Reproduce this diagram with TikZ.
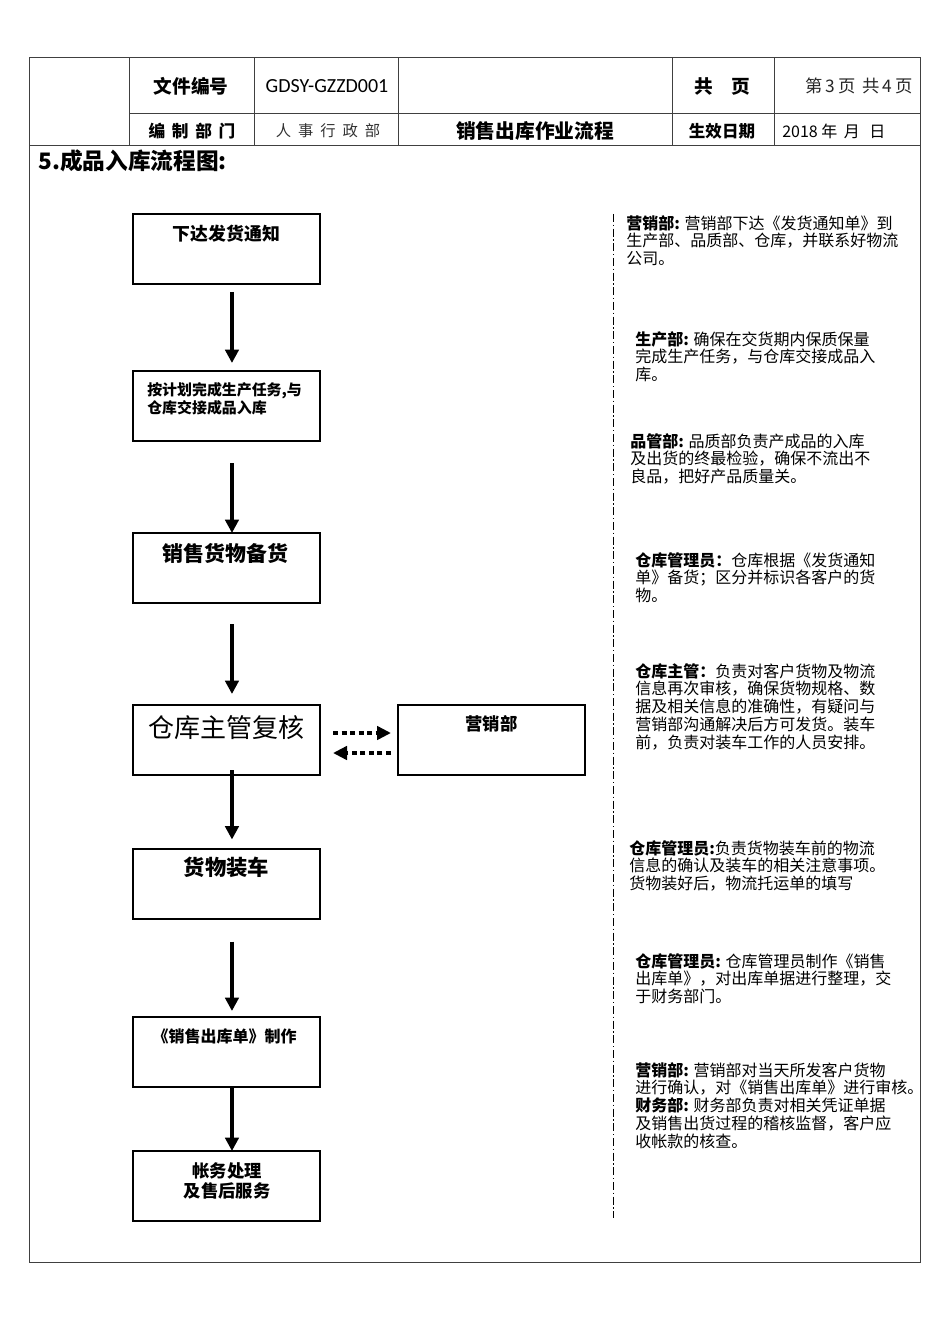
\documentclass[tikz,border=0pt]{standalone}
\usepackage{fontspec}
\setmainfont{Noto Sans CJK SC}
\newfontfamily\latf{Carlito}
\usetikzlibrary{arrows.meta}
\newcommand\myfs[2]{\fontsize{#1}{#2}\selectfont}
\begin{document}
\begin{tikzpicture}[x=0.75pt,y=-0.75pt,
  frame/.style={draw=black!75, line width=0.75pt},
  box/.style={draw, line width=1.5pt, minimum width=140.25pt, minimum height=52.5pt, inner sep=0pt, outer sep=0pt},
  arr/.style={line width=3pt, -{Triangle[width=10pt,length=10pt]}},
  darr/.style={line width=3.6pt, dash pattern=on 3.8pt off 2.6pt, -{Triangle[width=10pt,length=10.5pt]}},
  btxt/.style={inner sep=0pt, align=center, anchor=north},
  rtxt/.style={inner sep=0pt, align=left, anchor=north west, font=\myfs{12pt}{13.3pt}},
  htxt/.style={inner sep=0pt}
]
\useasboundingbox (0,0) rectangle (950,1344);
% header table and frame
\draw[frame] (29,58) rectangle (920,1262);
\draw[frame] (129,114) -- (920,114);
\draw[frame] (29,146) -- (920,146);
\foreach \xx in {129,254,398,672,774} \draw[frame] (\xx,58) -- (\xx,146);
\node[htxt, font=\bfseries\myfs{14pt}{14pt}] (h1) at (191,86) {文件编号};
\node[htxt, font=\latf\myfs{15pt}{15pt}] (h2) at (327,86) {GDSY-GZZD001};
\node[htxt, font=\bfseries\myfs{14pt}{14pt}] (h3) at (722,86) {共\hspace{1em}页};
\node[htxt, font=\myfs{13pt}{13pt}, text=black!85] (h4) at (859,86) {第\,3\,页\hspace{0.4em}共\,4\,页};
\node[htxt, font=\bfseries\myfs{12.5pt}{12.5pt}] (h5) at (192,131) {编\hspace{0.4em}制\hspace{0.4em}部\hspace{0.4em}门};
\node[htxt, font=\myfs{11.5pt}{11.5pt}, text=black!80] (h6) at (328,131) {人\hspace{0.45em}事\hspace{0.45em}行\hspace{0.45em}政\hspace{0.45em}部};
\node[htxt, font=\bfseries\myfs{14.8pt}{14.8pt}] (h7) at (535,131) {销售出库作业流程};
\node[htxt, font=\bfseries\myfs{12.4pt}{12.4pt}] (h8) at (722,131) {生效日期};
\node[htxt, anchor=west, font=\myfs{12pt}{12pt}] (h9) at (782,131) {2018 年\hspace{0.4em}月\hspace{0.6em}日};
\node[htxt, anchor=west, font=\bfseries\myfs{17pt}{17pt}] (title) at (38,161) {5.成品入库流程图:};
% boxes
\node[box] (b1) at (226.5,249) {};
\node[box] (b2) at (226.5,406) {};
\node[box] (b3) at (226.5,568) {};
\node[box] (b4) at (226.5,740) {};
\node[box] (mk) at (491.5,740) {};
\node[box] (b5) at (226.5,883.5) {};
\node[box] (b6) at (226.5,1052) {};
\node[box] (b7) at (226.5,1186) {};
% box texts
\node[btxt, font=\bfseries\myfs{13.4pt}{13.4pt}] (t1) at (226.5,225) {下达发货通知};
\node[btxt, anchor=north west, align=left, font=\bfseries\myfs{11.2pt}{11.4pt}] (t2) at (147,382) {按计划完成生产任务,与\\仓库交接成品入库};
\node[btxt, font=\bfseries\myfs{15.7pt}{15.7pt}] (t3) at (225.5,543) {销售货物备货};
\node[btxt, font=\myfs{19.5pt}{19.5pt}] (t4) at (226.5,715) {仓库主管复核};
\node[btxt, font=\bfseries\myfs{13pt}{13pt}] (tm) at (491.5,715) {营销部};
\node[btxt, font=\bfseries\myfs{16pt}{16pt}] (t5) at (226.5,857) {货物装车};
\node[btxt, font=\bfseries\myfs{12pt}{12pt}] (t6) at (224.5,1028) {《销售出库单》制作};
\node[btxt, font=\bfseries\myfs{13pt}{15pt}] (t7) at (227,1162) {帐务处理\\及售后服务};
% arrows
\draw[arr] ([xshift=4.1pt,yshift=-6pt]b1.south) -- ([xshift=4.1pt,yshift=6pt]b2.north);
\draw[arr] ([xshift=4.1pt,yshift=-16.5pt]b2.south) -- ([xshift=4.1pt]b3.north);
\draw[arr] ([xshift=4.1pt,yshift=-15.75pt]b3.south) -- ([xshift=4.1pt,yshift=8.25pt]b4.north);
\draw[arr] ([xshift=4.1pt,yshift=3.75pt]b4.south) -- ([xshift=4.1pt,yshift=6.75pt]b5.north);
\draw[arr] ([xshift=4.1pt,yshift=-17.25pt]b5.south) -- ([xshift=4.1pt,yshift=4.5pt]b6.north);
\draw[arr] ([xshift=4.1pt]b6.south) -- ([xshift=4.1pt]b7.north);
\draw[darr] ([xshift=9.75pt,yshift=5.25pt]b4.east) -- ([xshift=-5.25pt,yshift=5.25pt]mk.west);
\draw[darr] ([xshift=-5.25pt,yshift=-9.75pt]mk.west) -- ([xshift=9.75pt,yshift=-9.75pt]b4.east);
% separator
\draw[line width=0.75pt, dash pattern=on 6pt off 2pt on 1pt off 2pt] (613,214) -- (613,1218);
% right texts
\node[rtxt] (r1) at (626,215) {\textbf{营销部:} 营销部下达《发货通知单》到\\生产部、品质部、仓库，并联系好物流\\公司。};
\node[rtxt] (r2) at (635,331) {\textbf{生产部:} 确保在交货期内保质保量\\完成生产任务，与仓库交接成品入\\库。};
\node[rtxt] (r3) at (630,433) {\textbf{品管部:} 品质部负责产成品的入库\\及出货的终最检验，确保不流出不\\良品，把好产品质量关。};
\node[rtxt] (r4) at (635,552) {\textbf{仓库管理员：}仓库根据《发货通知\\单》备货；区分并标识各客户的货\\物。};
\node[rtxt] (r5) at (635,663) {\textbf{仓库主管：}负责对客户货物及物流\\信息再次审核，确保货物规格、数\\据及相关信息的准确性，有疑问与\\营销部沟通解决后方可发货。装车\\前，负责对装车工作的人员安排。};
\node[rtxt] (r6) at (629,840) {\textbf{仓库管理员:}负责货物装车前的物流\\信息的确认及装车的相关注意事项。\\货物装好后，物流托运单的填写};
\node[rtxt] (r7) at (635,953) {\textbf{仓库管理员:} 仓库管理员制作《销售\\出库单》，对出库单据进行整理，交\\于财务部门。};
\node[rtxt] (r8) at (635,1062) {\textbf{营销部:} 营销部对当天所发客户货物\\进行确认，对《销售出库单》进行审核。\\\textbf{财务部:} 财务部负责对相关凭证单据\\及销售出货过程的稽核监督，客户应\\收帐款的核查。};
\end{tikzpicture}
\end{document}
